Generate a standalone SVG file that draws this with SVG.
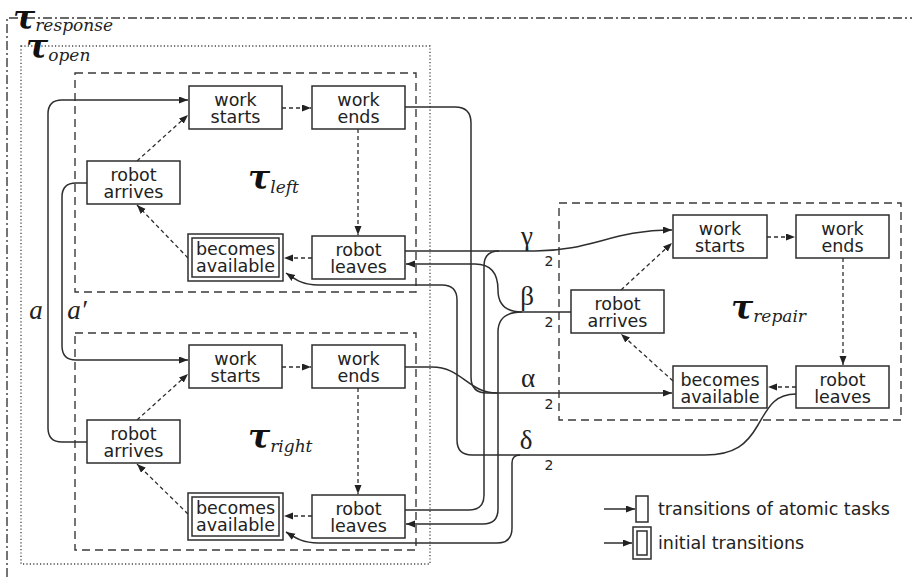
<svg xmlns="http://www.w3.org/2000/svg" width="912" height="577" viewBox="0 0 912 577">
<style>
.bx{fill:#fff;stroke:#2e2e2e;stroke-width:1.5}
.nt{font-family:"DejaVu Sans",sans-serif;font-size:17.5px;fill:#222;text-anchor:middle}
.cn{fill:none;stroke:#2e2e2e;stroke-width:1.5}
.da{fill:none;stroke:#2e2e2e;stroke-width:1.3;stroke-dasharray:4 3}
.tb{fill:none;stroke:#3a3a3a;stroke-width:1.4;stroke-dasharray:8 5}
.tau{font-family:"DejaVu Serif",serif;font-style:italic;font-weight:bold;font-size:33px;fill:#111}
.sub{font-family:"DejaVu Serif",serif;font-style:italic;font-size:17px;fill:#222}
.gr{font-family:"Liberation Serif",serif;font-size:27px;fill:#222;text-anchor:middle}
.two{font-family:"DejaVu Sans",sans-serif;font-size:14px;fill:#222;text-anchor:middle}
.lg{font-family:"DejaVu Sans",sans-serif;font-size:17.5px;fill:#222}
</style>
<defs>
<marker id="ah" markerUnits="userSpaceOnUse" markerWidth="10" markerHeight="8" refX="9" refY="3.5" orient="auto">
<path d="M0,0 L9,3.5 L0,7 z" fill="#222"/>
</marker>
</defs>
<rect width="912" height="577" fill="#fff"/>

<g id="frames">
<polyline points="7,577 7,18 912,18" fill="none" stroke="#3a3a3a" stroke-width="1.4" stroke-dasharray="9 3 2 3"/>
<rect x="21" y="46" width="409" height="518" fill="none" stroke="#444" stroke-width="1.3" stroke-dasharray="1.2 2.2"/>
<rect class="tb" x="75" y="73" width="341" height="219"/>
<rect class="tb" x="75" y="333" width="341" height="217"/>
<rect class="tb" x="559" y="203" width="342" height="217"/>
<text x="13" y="29"><tspan class="tau">τ</tspan><tspan class="sub" dy="2">response</tspan></text>
<text x="26" y="58"><tspan class="tau">τ</tspan><tspan class="sub" dy="3">open</tspan></text>
<text x="248" y="189"><tspan class="tau">τ</tspan><tspan class="sub" dy="4">left</tspan></text>
<text x="248" y="448"><tspan class="tau">τ</tspan><tspan class="sub" dy="4">right</tspan></text>
<text x="731" y="319"><tspan class="tau">τ</tspan><tspan class="sub" dy="3">repair</tspan></text>
</g>

<g id="connectors">
<path class="cn" d="M87,442 H62 Q48,442 48,428 V114 Q48,100 62,100 H188" marker-end="url(#ah)"/>
<path class="cn" d="M87,183 H76 Q62,183 62,197 V346 Q62,360 76,360 H188" marker-end="url(#ah)"/>
<path class="cn" d="M405,107 H455 Q471,107 471,123 V377 Q471,393 487,393 H672" marker-end="url(#ah)"/>
<path class="cn" d="M405,367 H432 C462,367 468,393 497,393"/>
<path class="cn" d="M405,251 H535 C592,251 612,230 672,230" marker-end="url(#ah)"/>
<path class="cn" d="M405,510 H469 Q484,510 484,495 V266 Q484,251 499,251"/>
<path class="cn" d="M571,312 H522 C505,312 498,303 498,290 C498,275 492,264 475,264 H406" marker-end="url(#ah)"/>
<path class="cn" d="M522,312 C506,312 498,318 498,332 V509 Q498,524 483,524 H406" marker-end="url(#ah)"/>
<path class="cn" d="M796,394 C774,394 768,408 758,425 C747,444 735,455 705,455 H472 Q457,455 457,440 V300 Q457,285 442,285 H318 C302,285 295,279 286,273" marker-end="url(#ah)"/>
<path class="cn" d="M520,455 Q512,455 512,463 V528 Q512,543 497,543 H318 C302,543 294,537 286,532" marker-end="url(#ah)"/>

<path class="da" d="M137,161 L188,115" marker-end="url(#ah)"/>
<path class="da" d="M282,108 H311" marker-end="url(#ah)"/>
<path class="da" d="M358,129 V235" marker-end="url(#ah)"/>
<path class="da" d="M312,258 H284" marker-end="url(#ah)"/>
<path class="da" d="M188,258 L137,205" marker-end="url(#ah)"/>

<path class="da" d="M137,420 L188,374" marker-end="url(#ah)"/>
<path class="da" d="M282,367 H311" marker-end="url(#ah)"/>
<path class="da" d="M358,388 V494" marker-end="url(#ah)"/>
<path class="da" d="M312,516 H284" marker-end="url(#ah)"/>
<path class="da" d="M188,514 L137,464" marker-end="url(#ah)"/>

<path class="da" d="M621,290 L672,243" marker-end="url(#ah)"/>
<path class="da" d="M767,237 H795" marker-end="url(#ah)"/>
<path class="da" d="M843,258 V365" marker-end="url(#ah)"/>
<path class="da" d="M796,387 H768" marker-end="url(#ah)"/>
<path class="da" d="M673,381 L621,334" marker-end="url(#ah)"/>

<text class="gr" x="36" y="319" font-style="italic">a</text>
<text class="gr" x="77" y="319" font-style="italic">a′</text>
<text class="gr" x="527" y="245">γ</text>
<text class="two" x="549" y="266">2</text>
<text class="gr" x="527" y="305">β</text>
<text class="two" x="549" y="327">2</text>
<text class="gr" x="528" y="387">α</text>
<text class="two" x="549" y="409">2</text>
<text class="gr" x="526" y="449">δ</text>
<text class="two" x="549" y="470">2</text>
</g>

<g id="left-work-starts"><rect class="bx" x="189" y="86" width="93" height="43"/><text class="nt" x="235.5" y="106">work</text><text class="nt" x="235.5" y="123">starts</text></g>
<g id="left-work-ends"><rect class="bx" x="312" y="86" width="93" height="43"/><text class="nt" x="358.5" y="106">work</text><text class="nt" x="358.5" y="123">ends</text></g>
<g id="left-robot-arrives"><rect class="bx" x="87" y="161" width="93" height="43"/><text class="nt" x="133.5" y="181">robot</text><text class="nt" x="133.5" y="198">arrives</text></g>
<g id="left-becomes-available"><rect class="bx" x="188" y="234" width="95" height="47"/><rect class="bx" x="192" y="238" width="87" height="39"/><text class="nt" x="235.5" y="255">becomes</text><text class="nt" x="235.5" y="272">available</text></g>
<g id="left-robot-leaves"><rect class="bx" x="312" y="236" width="93" height="43"/><text class="nt" x="358.5" y="256">robot</text><text class="nt" x="358.5" y="273">leaves</text></g>

<g id="right-work-starts"><rect class="bx" x="189" y="345" width="93" height="43"/><text class="nt" x="235.5" y="365">work</text><text class="nt" x="235.5" y="382">starts</text></g>
<g id="right-work-ends"><rect class="bx" x="312" y="345" width="93" height="43"/><text class="nt" x="358.5" y="365">work</text><text class="nt" x="358.5" y="382">ends</text></g>
<g id="right-robot-arrives"><rect class="bx" x="87" y="420" width="93" height="43"/><text class="nt" x="133.5" y="440">robot</text><text class="nt" x="133.5" y="457">arrives</text></g>
<g id="right-becomes-available"><rect class="bx" x="188" y="493" width="95" height="47"/><rect class="bx" x="192" y="497" width="87" height="39"/><text class="nt" x="235.5" y="514">becomes</text><text class="nt" x="235.5" y="531">available</text></g>
<g id="right-robot-leaves"><rect class="bx" x="312" y="495" width="93" height="43"/><text class="nt" x="358.5" y="515">robot</text><text class="nt" x="358.5" y="532">leaves</text></g>

<g id="repair-work-starts"><rect class="bx" x="673" y="215" width="94" height="43"/><text class="nt" x="720" y="235">work</text><text class="nt" x="720" y="252">starts</text></g>
<g id="repair-work-ends"><rect class="bx" x="796" y="215" width="93" height="43"/><text class="nt" x="842.5" y="235">work</text><text class="nt" x="842.5" y="252">ends</text></g>
<g id="repair-robot-arrives"><rect class="bx" x="571" y="290" width="93" height="43"/><text class="nt" x="617.5" y="310">robot</text><text class="nt" x="617.5" y="327">arrives</text></g>
<g id="repair-becomes-available"><rect class="bx" x="673" y="366" width="94" height="42"/><text class="nt" x="720" y="386">becomes</text><text class="nt" x="720" y="403">available</text></g>
<g id="repair-robot-leaves"><rect class="bx" x="796" y="366" width="93" height="42"/><text class="nt" x="842.5" y="386">robot</text><text class="nt" x="842.5" y="403">leaves</text></g>

<g id="legend">
<path class="cn" d="M604,509 H635" marker-end="url(#ah)"/>
<rect class="bx" x="636" y="496" width="12" height="26"/>
<text class="lg" x="658" y="515">transitions of atomic tasks</text>
<path class="cn" d="M604,543 H632" marker-end="url(#ah)"/>
<rect class="bx" x="633" y="527" width="18" height="32"/>
<rect class="bx" x="637" y="531" width="10" height="24"/>
<text class="lg" x="658" y="549">initial transitions</text>
</g>
</svg>
